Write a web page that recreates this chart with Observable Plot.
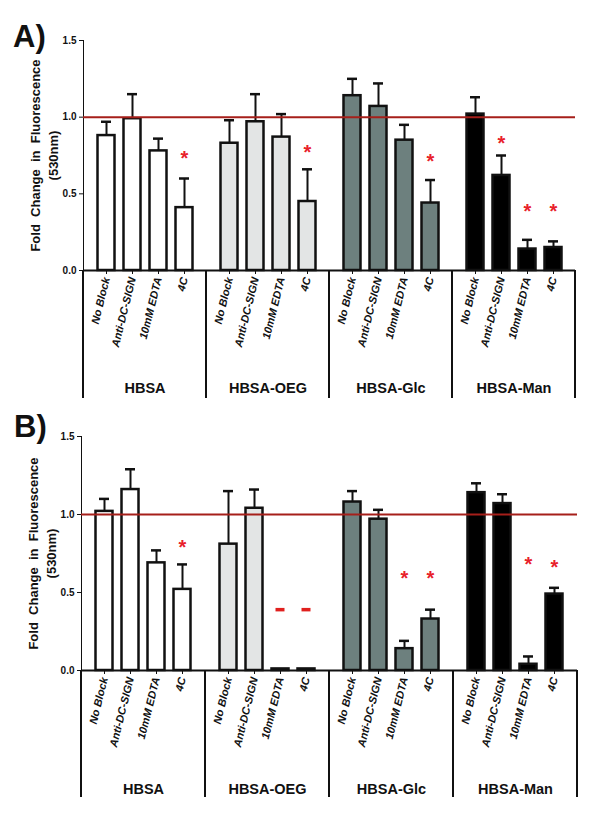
<!DOCTYPE html>
<html><head><meta charset="utf-8">
<script src="https://cdn.jsdelivr.net/npm/d3@7"></script>
<script src="https://cdn.jsdelivr.net/npm/@observablehq/plot@0.6"></script>
<style>
body{margin:0;background:#fff;font-family:Arial,"Liberation Sans",sans-serif}
.panel{position:relative;width:602px}
.tag{position:absolute;font:bold 31px Arial,"Liberation Sans",sans-serif;line-height:1;color:#111}
svg{display:block}
g[aria-label="x-axis tick label"]{font-size:11px;font-weight:bold;font-style:italic}
g[aria-label="y-axis tick label"]{font-size:10px;font-weight:bold}
</style></head><body>
<div id="A" class="panel"><div class="tag" style="left:13px;top:21px">A)</div></div>
<div id="B" class="panel"><div class="tag" style="left:14px;top:11px">B)</div></div>
<script>
const groups = ["HBSA", "HBSA-OEG", "HBSA-Glc", "HBSA-Man"];
const conditions = ["No Block", "Anti-DC-SIGN", "10mM EDTA", "4C"];
const groupColors = ["#ffffff", "#e3e5e5", "#6d807e", "#000000"];
const yTicks = [0, 0.5, 1.0, 1.5];
const reference = 1.0;
const yLabel = "Fold\u00a0 Change\u00a0 in\u00a0 Fluorescence\n(530nm)";

// Panel A
const meanA = [[0.88, 0.99, 0.78, 0.41], [0.83, 0.97, 0.87, 0.45], [1.14, 1.07, 0.85, 0.44], [1.02, 0.62, 0.14, 0.15]];
const errA  = [[0.97, 1.15, 0.86, 0.60], [0.98, 1.15, 1.02, 0.66], [1.25, 1.22, 0.95, 0.59], [1.13, 0.75, 0.20, 0.19]];
const starA = [[null, null, null, 0.76], [null, null, null, 0.80], [null, null, null, 0.74], [null, 0.86, 0.42, 0.42]];
const dashA = [[null, null, null, null], [null, null, null, null], [null, null, null, null], [null, null, null, null]];

// Panel B
const meanB = [[1.02, 1.16, 0.69, 0.52], [0.81, 1.04, 0.01, 0.01], [1.08, 0.97, 0.14, 0.33], [1.14, 1.07, 0.04, 0.49]];
const errB  = [[1.10, 1.29, 0.77, 0.68], [1.15, 1.16, null, null], [1.15, 1.03, 0.19, 0.39], [1.20, 1.13, 0.09, 0.53]];
const starB = [[null, null, null, 0.82], [null, null, null, null], [null, null, 0.62, 0.62], [null, null, 0.71, 0.69]];
const dashB = [[null, null, null, null], [null, null, 0.39, 0.39], [null, null, null, null], [null, null, null, null]];

function rows(mean, err, star, dash) {
  const out = [];
  groups.forEach((g, gi) => conditions.forEach((c, ci) => out.push({
    group: g, condition: c, value: mean[gi][ci], err: err[gi][ci], star: star[gi][ci], dash: dash[gi][ci]
  })));
  return out;
}

function panel(data, o) {
  const ink = "#111";
  const chart = Plot.plot({
    width: 602, height: o.height,
    marginTop: o.mt, marginBottom: o.mb, marginLeft: o.ml, marginRight: o.mr,
    style: {fontFamily: "Arial, 'Liberation Sans', sans-serif", background: "transparent", color: ink, overflow: "visible"},
    fx: {domain: groups, padding: 0, axis: null},
    x: {domain: conditions, paddingInner: 0.31, paddingOuter: 0.51, tickRotate: -76, tickSize: 4, tickPadding: 3, label: null},
    y: {domain: [0, 1.5], ticks: yTicks, tickFormat: ".1f", tickSize: 4, tickPadding: 3, label: null, line: true},
    color: {domain: groups, range: groupColors},
    marks: [
      Plot.barY(data, {fx: "group", x: "condition", y: "value", fill: "group", stroke: ink, strokeWidth: 2.5, insetLeft: 0.5, insetRight: 0.5}),
      Plot.ruleX(data.filter(d => d.err != null), {fx: "group", x: "condition", y1: "value", y2: "err", stroke: ink, strokeWidth: 2}),
      Plot.tickY(data.filter(d => d.err != null), {fx: "group", x: "condition", y: "err", stroke: ink, strokeWidth: 2.5, insetLeft: 4, insetRight: 4}),
      Plot.ruleY([reference], {stroke: "#a61f1a", strokeWidth: 2}),
      Plot.ruleY([0], {stroke: ink, strokeWidth: 2}),
      Plot.text(data.filter(d => d.star != null), {fx: "group", x: "condition", y: "star", text: () => "*", fill: "#e8212b", fontSize: 20, fontWeight: "bold", dy: 5}),
      Plot.tickY(data.filter(d => d.dash != null), {fx: "group", x: "condition", y: "dash", stroke: "#e0201e", strokeWidth: 3.5, insetLeft: 4.5, insetRight: 4.5}),
      Plot.text(groups, {fx: d => d, text: d => d, frameAnchor: "bottom", lineAnchor: "middle", dy: o.groupDy, fontSize: 14.5, fontWeight: "bold", fill: ink}),
      Plot.text([yLabel], {fx: () => groups[0], text: d => d, frameAnchor: "left", textAnchor: "middle", lineAnchor: "middle", rotate: -90, dx: -40, fontSize: 13, fontWeight: "bold", lineHeight: 1.35, fill: ink})
    ]
  });
  // group separators below the axis, placed with the fx and y scales
  const fx = chart.scale("fx");
  const y = chart.scale("y");
  const edges = groups.map(g => fx.apply(g)).concat([fx.apply(groups[groups.length - 1]) + fx.bandwidth]);
  const y0 = y.apply(0);
  d3.select(chart).append("g").attr("stroke", ink).attr("stroke-width", 2)
    .selectAll("line").data(edges).join("line")
    .attr("x1", d => d).attr("x2", d => d)
    .attr("y1", y0).attr("y2", y0 + o.sepLen);
  return chart;
}

document.getElementById("A").appendChild(panel(rows(meanA, errA, starA, dashA),
  {height: 400, mt: 40, mb: 130, ml: 82, mr: 26, groupDy: 118, sepLen: 128}));
document.getElementById("B").appendChild(panel(rows(meanB, errB, starB, dashB),
  {height: 417, mt: 36, mb: 147, ml: 80, mr: 24, groupDy: 119, sepLen: 127}));
</script>
</body></html>
